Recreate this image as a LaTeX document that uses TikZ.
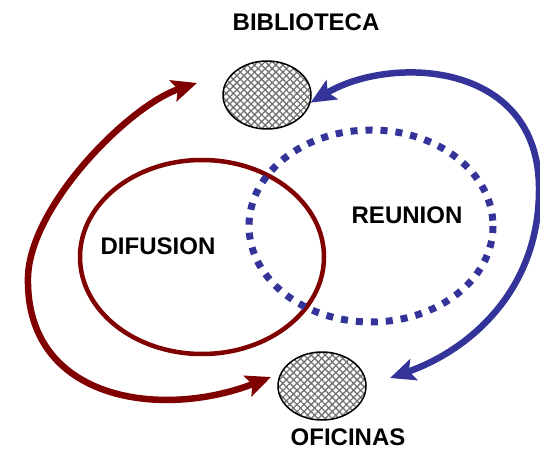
\documentclass[tikz,border=0pt]{standalone}
\usepackage{fontspec}
\setmainfont{Liberation Sans}
\usetikzlibrary{arrows.meta,patterns.meta,shapes.geometric}
\definecolor{maroon}{RGB}{128,0,0}
\definecolor{navy}{RGB}{51,51,153}
\begin{document}
\begin{tikzpicture}[x=1pt,y=-1pt,
  tag/.style={font=\fontsize{24}{28}\selectfont\bfseries},
  hatched/.style={ellipse,draw,line width=1.5pt,minimum width=88pt,minimum height=68pt,
    preaction={fill=white},pattern={Hatch[angle=45,distance=5pt,line width=1.3pt]},pattern color=black!55},
  roundtrip/.style={line width=6.5pt,{Stealth[length=25pt,width=22pt,inset=5pt]}-{Stealth[length=25pt,width=22pt,inset=5pt]}}]
\useasboundingbox (0,0) rectangle (540,454);
\node[hatched] (bib) at (267,95){};
\node[hatched] (ofi) at (322,386){};
\node[tag] (tbib) at (306,22){BIBLIOTECA};
\node[tag] (tofi) at (348,437){OFICINAS};
\draw[maroon, line width=4.5pt] (202,257) ellipse [x radius=122, y radius=97];
\draw[navy, line width=7pt, dash pattern=on 7pt off 8pt] (371,226) ellipse [x radius=122, y radius=96];
\node[tag] (dif) at (158,246){DIFUSION};
\node[tag] (reu) at (407,215){REUNION};
\coordinate (redtop) at (197,83);
\coordinate (redbot) at (271,377);
\coordinate (bluebot) at (390,378);
\draw[roundtrip, maroon] (redbot) .. controls (160,420) and (25,400) .. (28,277)
  .. controls (30,205) and (130,105) .. (redtop);
\draw[roundtrip, navy] (bib.-10) .. controls (390,55) and (540,60) .. (539,190)
  .. controls (539,290) and (470,350) .. (bluebot);
\end{tikzpicture}
\end{document}
